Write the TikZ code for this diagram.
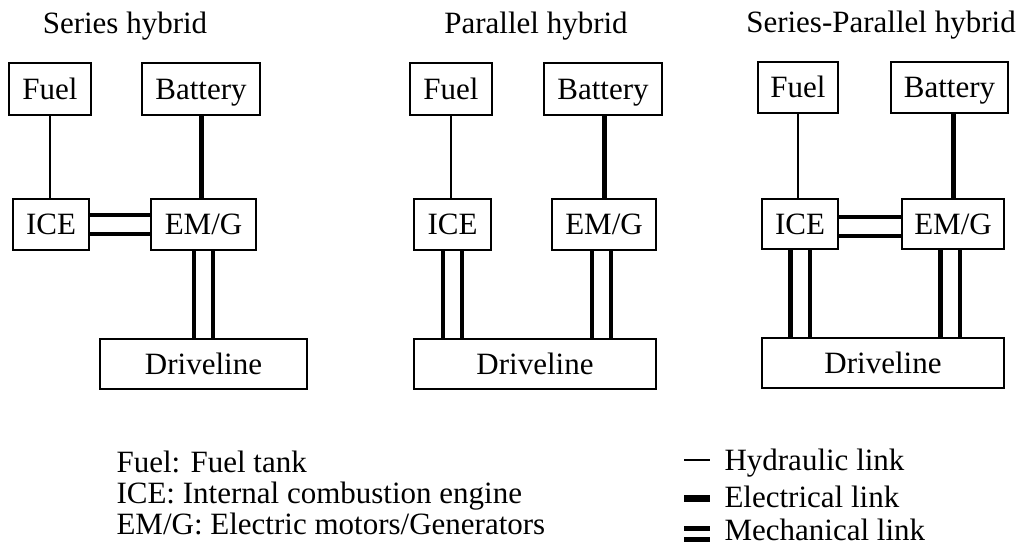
\documentclass[tikz,border=0pt]{standalone}
\usepackage{fontspec}
\setmainfont{Liberation Serif}
\pgfdeclarelayer{background}
\pgfsetlayers{background,main}

\begin{document}
\begin{tikzpicture}[x=1pt,y=-1pt,
  font=\fontsize{31}{37}\selectfont,
  blk/.style={draw,line width=1.5pt,fill=white,inner sep=0pt,text height=20.5pt,text depth=0pt},
  hyd/.style={line width=2pt},
  ele/.style={line width=5pt},
  mech/.style={line width=4.3pt,double=white,double distance=15pt}]
\useasboundingbox (0,0) rectangle (1020,549);

% titles
\node[anchor=base] at (125,33) (tA) {Series hybrid};
\node[anchor=base] at (536,33) (tB) {Parallel hybrid};
\node[anchor=base] at (881,32) (tC) {Series-Parallel hybrid};

% series hybrid
\node[blk,minimum width=82,minimum height=52] at (50,89) (fuelA) {Fuel};
\node[blk,minimum width=118,minimum height=52] at (201,89) (batA) {Battery};
\node[blk,minimum width=76,minimum height=51] at (51,224.5) (iceA) {ICE};
\node[blk,minimum width=105,minimum height=51] at (203.5,224.5) (emgA) {EM/G};
\node[blk,minimum width=207,minimum height=50] at (203.5,364) (drvA) {Driveline};

% parallel hybrid
\node[blk,minimum width=82,minimum height=52] at (451,89) (fuelB) {Fuel};
\node[blk,minimum width=118,minimum height=52] at (603,89) (batB) {Battery};
\node[blk,minimum width=77,minimum height=51] at (452.5,224.5) (iceB) {ICE};
\node[blk,minimum width=104,minimum height=51] at (604,224.5) (emgB) {EM/G};
\node[blk,minimum width=242,minimum height=50] at (535,364) (drvB) {Driveline};

% series-parallel hybrid
\node[blk,minimum width=80,minimum height=51] at (798,87.5) (fuelC) {Fuel};
\node[blk,minimum width=117,minimum height=51] at (949.5,87.5) (batC) {Battery};
\node[blk,minimum width=76,minimum height=50] at (800,224) (iceC) {ICE};
\node[blk,minimum width=102,minimum height=50] at (953,224) (emgC) {EM/G};
\node[blk,minimum width=242,minimum height=50] at (883,363) (drvC) {Driveline};

\begin{pgfonlayer}{background}
\draw[hyd] (fuelA.south) -- (fuelA.south |- iceA.north);
\draw[ele] (batA.south) -- (batA.south |- emgA.north);
\draw[mech] (iceA.east) -- (emgA.west);
\draw[mech] (emgA.south) -- (emgA.south |- drvA.north);

\draw[hyd] (fuelB.south) -- (fuelB.south |- iceB.north);
\draw[ele] (emgB.north |- batB.south) -- (emgB.north);
\draw[mech] (iceB.south) -- (iceB.south |- drvB.north);
\draw[mech] (emgB.south) ++(-2.5,0) coordinate (mB) -- (mB |- drvB.north);

\draw[hyd] (fuelC.south) -- (fuelC.south |- iceC.north);
\draw[ele] (emgC.north |- batC.south) -- (emgC.north);
\draw[mech] ([yshift=-2.5]iceC.east) -- ([yshift=-2.5]iceC.east -| emgC.west);
\draw[mech] (iceC.south) -- (iceC.south |- drvC.north);
\draw[mech] (emgC.south) ++(-3,0) coordinate (mC) -- (mC |- drvC.north);
\end{pgfonlayer}

% legend
\node[anchor=base west] at (113,472) (lgFuel) {Fuel: Fuel tank};
\node[anchor=base west] at (113,503) (lgIce) {ICE: Internal combustion engine};
\node[anchor=base west] at (113,534) (lgEmg) {EM/G: Electric motors/Generators};

\draw[line width=2.5pt] (684,460) -- (710,460);
\draw[line width=6.5pt] (684,498.5) -- (710,498.5);
\draw[line width=5pt,double=white,double distance=6pt] (684,534) -- (710,534);
\node[anchor=base west] at (721,470) (lgHyd) {Hydraulic link};
\node[anchor=base west] at (721,507) (lgEle) {Electrical link};
\node[anchor=base west] at (721,540) (lgMech) {Mechanical link};
\end{tikzpicture}
\end{document}
